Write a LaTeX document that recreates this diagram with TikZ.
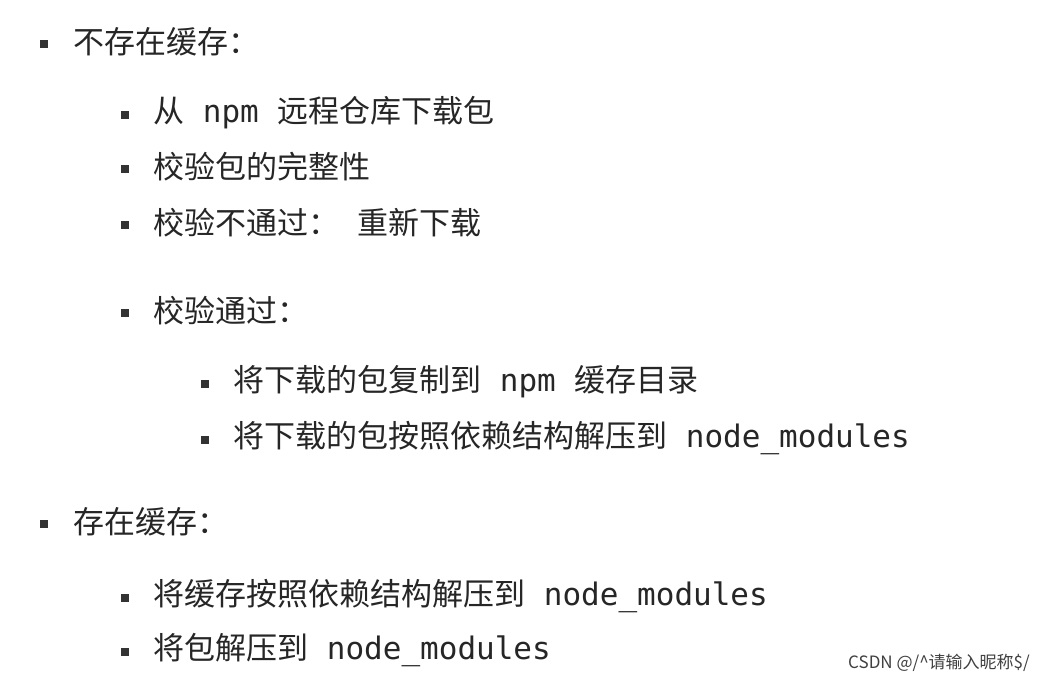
\documentclass[tikz,border=0pt]{standalone}
\usepackage{fontspec}
\setmainfont{Noto Sans CJK SC}
\setmonofont{DejaVu Sans Mono}
\newcommand{\mt}[1]{\texttt{\ #1\ }}
\begin{document}
\begin{tikzpicture}[x=1pt,y=-1pt,
  txt/.style={anchor=west,inner sep=0pt,font=\fontsize{31}{34}\selectfont,text=black!85},
  bul/.style={fill=black!80,minimum size=8pt,inner sep=0pt}]
\useasboundingbox (0,0) rectangle (1040,682);
\fill[white] (0,0) rectangle (1040,682);
\foreach \n/\x/\y in {a/44/44,b/125/115,c/125/169,d/125/225,e/125/313,f/205/384,g/205/440,h/44/524,i/125/598,j/125/652}{
  \node[bul] (b\n) at (\x,\y) {};}
\node[txt] (ta) at (73,42) {不存在缓存：};
\node[txt] (tb) at (153,113) {从\mt{npm}远程仓库下载包};
\node[txt] (tc) at (153,167) {校验包的完整性};
\node[txt] (td) at (153,223) {校验不通过：\texttt{\ }重新下载};
\node[txt] (te) at (153,311) {校验通过：};
\node[txt] (tf) at (233,382) {将下载的包复制到\mt{npm}缓存目录};
\node[txt] (tg) at (233,438) {将下载的包按照依赖结构解压到\mt{node\_modules}};
\node[txt] (th) at (73,522) {存在缓存：};
\node[txt] (ti) at (153,596) {将缓存按照依赖结构解压到\mt{node\_modules}};
\node[txt] (tj) at (153,650) {将包解压到\mt{node\_modules}};
\node[anchor=east,inner sep=0pt,font=\fontsize{17}{20}\selectfont,text=black!75] (wm) at (1030,663) {CSDN @/\^{}请输入昵称\$/};
\end{tikzpicture}
\end{document}
